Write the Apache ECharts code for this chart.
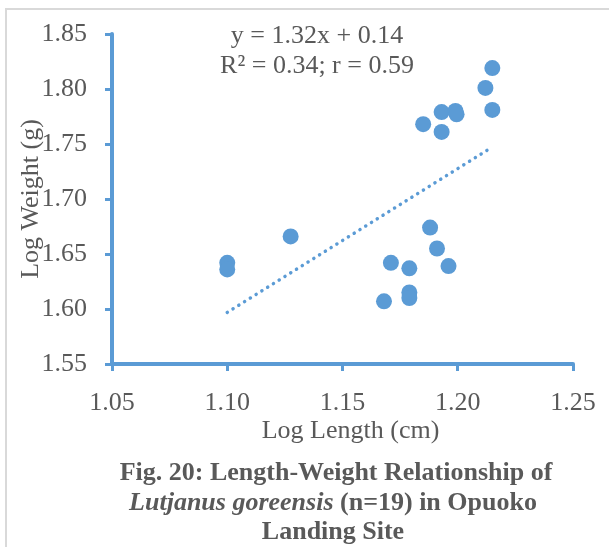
<!DOCTYPE html>
<html>
<head>
<meta charset="utf-8">
<script src="https://cdn.jsdelivr.net/npm/echarts@6/dist/echarts.min.js"></script>
<style>html,body{margin:0;padding:0;background:#fff;}#c{width:609px;height:547px;}</style>
</head>
<body>
<div id="c"></div>
<script>
const logLength = [1.100, 1.100, 1.1275, 1.168, 1.171, 1.179, 1.179, 1.179, 1.185, 1.188, 1.191, 1.193, 1.193, 1.196, 1.199, 1.1995, 1.212, 1.215, 1.215];
const logWeight = [1.642, 1.636, 1.666, 1.607, 1.642, 1.637, 1.615, 1.610, 1.768, 1.674, 1.655, 1.779, 1.761, 1.639, 1.780, 1.777, 1.801, 1.819, 1.781];
const xTicks = [1.05, 1.10, 1.15, 1.20, 1.25];
const yTicks = [1.55, 1.60, 1.65, 1.70, 1.75, 1.80, 1.85];
const equationLines = ['y = 1.32x + 0.14', 'R\u00b2 = 0.34; r = 0.59'];
const xTitle = 'Log Length (cm)';
const yTitle = 'Log Weight (g)';
const captionLines = ['Fig. 20: Length-Weight Relationship of', 'Lutjanus goreensis', '(n=19) in Opuoko', 'Landing Site'];

// least-squares trend line from the data
const n = logLength.length;
const mx = logLength.reduce((a, b) => a + b, 0) / n;
const my = logWeight.reduce((a, b) => a + b, 0) / n;
let sxy = 0, sxx = 0;
for (let i = 0; i < n; i++) { sxy += (logLength[i] - mx) * (logWeight[i] - my); sxx += (logLength[i] - mx) ** 2; }
const slope = sxy / sxx, intercept = my - slope * mx;
const xmin = Math.min(...logLength), xmax = Math.max(...logLength);
const trend = [[xmin, slope * xmin + intercept], [xmax, slope * xmax + intercept]];

const blue = '#5B9BD5';
const grey = '#595959';
const serif = '"Liberation Serif", "Times New Roman", serif';
const fs = 26;

const chart = echarts.init(document.getElementById('c'));
chart.setOption({
  animation: false,
  textStyle: { fontFamily: serif },
  grid: { left: 112, right: 36, top: 34, bottom: 183 },
  xAxis: {
    type: 'value', min: xTicks[0], max: xTicks[xTicks.length - 1], interval: 0.05,
    name: xTitle, nameLocation: 'middle', nameGap: 54, nameMoveOverlap: false,
    nameTextStyle: { color: grey, fontSize: fs, fontFamily: serif, padding: [0, 0, 0, 16] },
    axisLine: { show: true, lineStyle: { color: blue, width: 4 } },
    axisTick: { show: true, length: 7, lineStyle: { color: blue, width: 3 } },
    axisLabel: { color: grey, fontSize: fs, fontFamily: serif, margin: 26, formatter: v => v.toFixed(2) },
    splitLine: { show: false }
  },
  yAxis: {
    type: 'value', min: yTicks[0], max: yTicks[yTicks.length - 1], interval: 0.05,
    name: yTitle, nameLocation: 'middle', nameGap: 68, nameRotate: 90, nameMoveOverlap: false,
    nameTextStyle: { color: grey, fontSize: fs, fontFamily: serif },
    axisLine: { show: true, lineStyle: { color: blue, width: 4 } },
    axisTick: { show: true, length: 7, lineStyle: { color: blue, width: 3 } },
    axisLabel: { color: grey, fontSize: fs, fontFamily: serif, margin: 25, formatter: v => v.toFixed(2) },
    splitLine: { show: false }
  },
  series: [
    {
      type: 'line', data: trend, symbol: 'none', silent: true,
      lineStyle: { color: blue, width: 3.5, type: [0.1, 6.7], cap: 'round' }, z: 1
    },
    {
      type: 'scatter', data: logLength.map((x, i) => [x, logWeight[i]]),
      symbolSize: 16, itemStyle: { color: blue, opacity: 1 }, z: 2
    }
  ],
  graphic: [
    { type: 'rect', shape: { x: 6, y: 9, width: 640, height: 600 }, style: { fill: 'none', stroke: '#d9d9d9', lineWidth: 2 }, silent: true },
    { type: 'text', x: 317, y: 36, style: { text: equationLines[0], font: fs + 'px ' + serif, fill: grey, textAlign: 'center', textVerticalAlign: 'middle' } },
    { type: 'text', x: 317, y: 66, style: { text: equationLines[1], font: fs + 'px ' + serif, fill: grey, textAlign: 'center', textVerticalAlign: 'middle' } },
    { type: 'text', x: 336, y: 473, style: { text: captionLines[0], font: 'bold 26px ' + serif, fill: grey, textAlign: 'center', textVerticalAlign: 'middle' } },
    { type: 'text', x: 333, y: 503, style: {
        text: '{i|' + captionLines[1] + '} {b|' + captionLines[2] + '}',
        textAlign: 'center', textVerticalAlign: 'middle',
        rich: {
          i: { font: 'italic bold 26px ' + serif, fill: grey, color: grey },
          b: { font: 'bold 26px ' + serif, fill: grey, color: grey }
        },
        font: 'bold 26px ' + serif, fill: grey
      } },
    { type: 'text', x: 333, y: 532, style: { text: captionLines[3], font: 'bold 26px ' + serif, fill: grey, textAlign: 'center', textVerticalAlign: 'middle' } }
  ]
});
</script>
</body>
</html>
